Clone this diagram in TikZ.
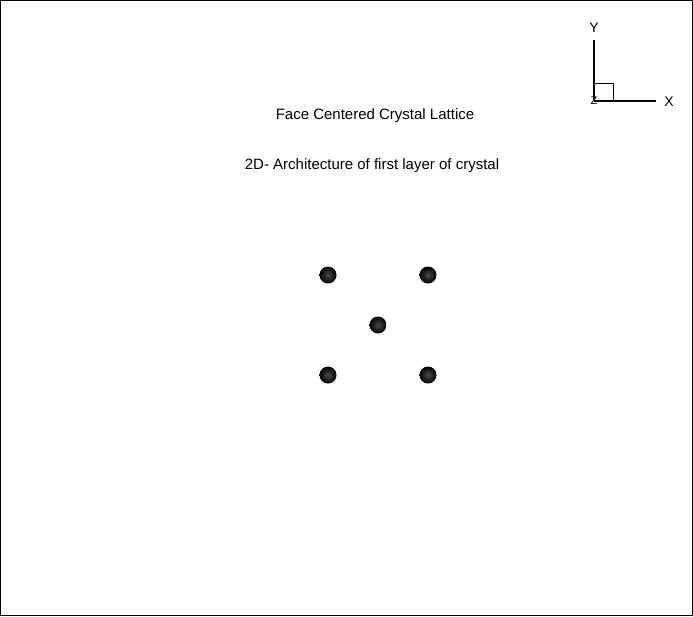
\documentclass[tikz,border=0pt]{standalone}
\usepackage{fontspec}
\setmainfont{Liberation Sans}
\begin{document}
\begin{tikzpicture}[x=1pt,y=-1pt,
  atom/.style={circle,minimum size=17pt,inner sep=0pt,draw=none,inner color=gray!60!black,outer color=black},
  lbl/.style={font=\fontsize{15}{17}\selectfont,inner sep=0pt},
  axlbl/.style={font=\fontsize{14}{16}\selectfont,inner sep=0pt},
  axis/.style={line width=2pt}]
\draw[line width=1pt] (0.5,0.5) rectangle (692.5,615.5);
\useasboundingbox (0,0) rectangle (693,616);
% titles
\node[lbl] (t1) at (375,116) {Face Centered Crystal Lattice};
\node[lbl] (t2) at (372,166) {2D- Architecture of first layer of crystal};
% axes triad
\coordinate (o) at (594,101);
\coordinate (ytip) at (594,40);
\coordinate (xtip) at (656,101);
\draw[axis] (o) -- (ytip);
\draw[axis] (o) -- (xtip);
\draw[line width=0.8pt] (594,83) rectangle (613,101);
\node[axlbl] (ly) at (594,28) {Y};
\node[axlbl] (lx) at (669,102) {X};
\node[font=\fontsize{11}{12}\selectfont,inner sep=0pt] (lz) at (594,101) {Z};
% atoms
\node[atom] (a1) at (328,275) {};
\node[atom] (a2) at (428,275) {};
\node[atom] (a3) at (378,325) {};
\node[atom] (a4) at (328,375) {};
\node[atom] (a5) at (428,375) {};
\end{tikzpicture}
\end{document}
